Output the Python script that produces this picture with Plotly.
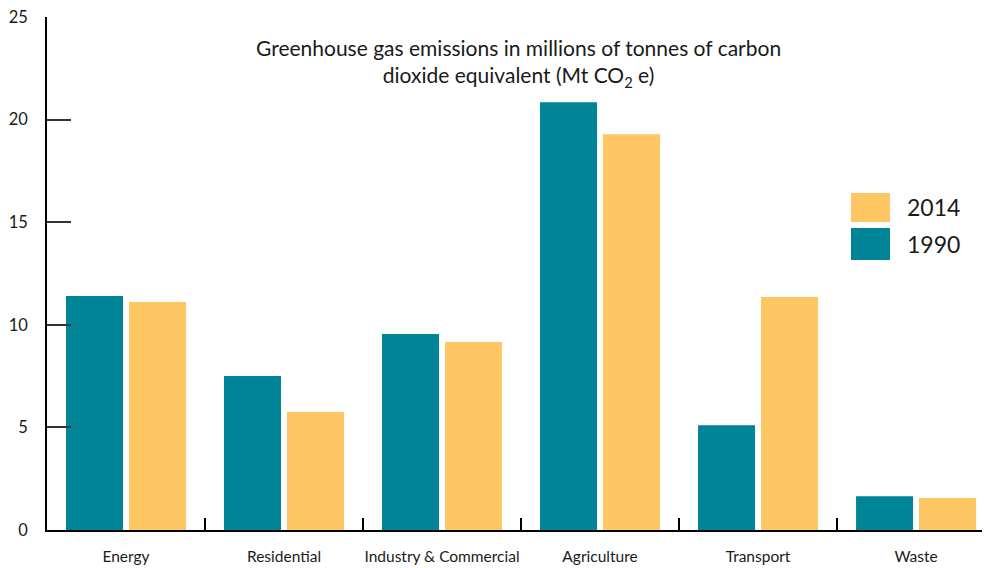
import plotly.graph_objects as go

categories = ["Energy", "Residential", "Industry & Commercial", "Agriculture", "Transport", "Waste"]
values_1990 = [11.40, 7.50, 9.55, 20.85, 5.11, 1.65]
values_2014 = [11.11, 5.75, 9.16, 19.29, 11.35, 1.56]
y_ticks = [0, 5, 10, 15, 20, 25]

TEAL = "#008598"
GOLD = "#FFC763"
FONT = "Lato"

# page offset of the figure inside the browser window
OFF = 8
PL, PT, PR, PB = 47, 17, 990, 530  # desired plot area in window pixels
PW, PH = PR - PL, PB - PT


def px(x):
    return (x - PL) / PW


def py(y):
    return 1 - (y - PT) / PH


fig = go.Figure()
fig.add_trace(go.Bar(name="1990", x=categories, y=values_1990, marker_color=TEAL,
                     marker_line_width=0, showlegend=False))
fig.add_trace(go.Bar(name="2014", x=categories, y=values_2014, marker_color=GOLD,
                     marker_line_width=0, showlegend=False))

fig.update_layout(
    width=990 - OFF, height=568 - OFF,
    margin=dict(l=PL - OFF, r=0, t=PT - OFF, b=568 - PB, autoexpand=False),
    paper_bgcolor="white", plot_bgcolor="white",
    barmode="group", bargap=0.2025, bargroupgap=0.095,
    font=dict(family=FONT, color="#1a1a1a"),
    xaxis=dict(
        range=[-0.5, 5.468], showline=True, linecolor="black", linewidth=1.5,
        ticks="inside", ticklen=12, tickcolor="black", tickwidth=1.5,
        tickson="boundaries", showgrid=False, zeroline=False, automargin=False,
        tickangle=0, ticklabeloverflow="allow",
        tickfont=dict(size=15.5, family=FONT, color="#1a1a1a"),
        ticklabelstandoff=12,
    ),
    yaxis=dict(
        range=[0, 25], tickvals=y_ticks, showline=True, linecolor="black", linewidth=1.5,
        ticks="inside", ticklen=24, tickcolor="#333", tickwidth=1.5,
        showgrid=False, zeroline=False, automargin=False,
        ticklabeloverflow="allow",
        tickfont=dict(size=16.5, family=FONT, color="#1a1a1a"),
        ticklabelstandoff=14,
    ),
    annotations=[
        dict(text="Greenhouse gas emissions in millions of tonnes of carbon<br>dioxide equivalent (Mt CO<sub>2</sub> e)",
             xref="paper", yref="paper", x=px(518), y=py(63),
             xanchor="center", yanchor="middle", showarrow=False,
             font=dict(size=21, family=FONT, color="#1a1a1a"), align="center"),
        dict(text="2014", xref="paper", yref="paper", x=px(905), y=py(207),
             xanchor="left", yanchor="middle", showarrow=False,
             font=dict(size=23, family=FONT, color="#1a1a1a")),
        dict(text="1990", xref="paper", yref="paper", x=px(905), y=py(244),
             xanchor="left", yanchor="middle", showarrow=False,
             font=dict(size=23, family=FONT, color="#1a1a1a")),
    ],
    shapes=[
        dict(type="rect", xref="paper", yref="paper",
             x0=px(851), x1=px(890), y0=py(222), y1=py(193),
             fillcolor=GOLD, line_width=0),
        dict(type="rect", xref="paper", yref="paper",
             x0=px(851), x1=px(890), y0=py(260), y1=py(228),
             fillcolor=TEAL, line_width=0),
    ],
)

fig.write_html("out.html")
